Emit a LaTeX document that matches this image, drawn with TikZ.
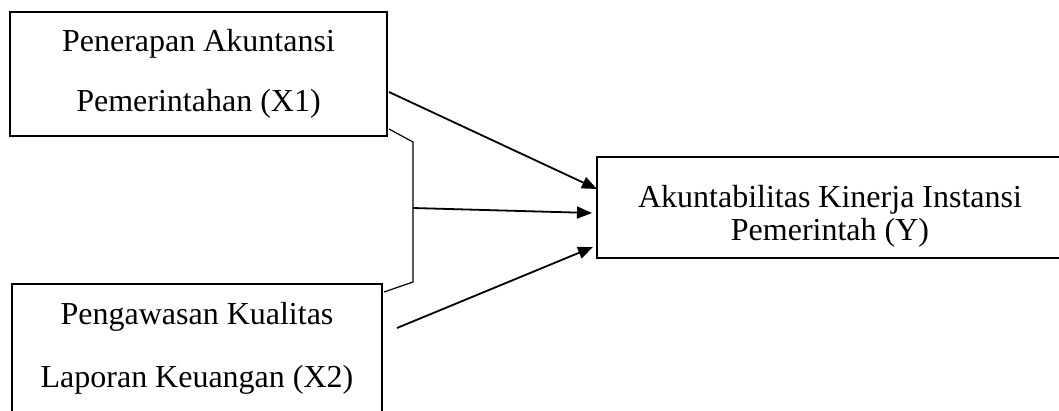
\documentclass[tikz,border=0pt]{standalone}
\usepackage{fontspec}
\setmainfont{Liberation Serif}
\usetikzlibrary{arrows.meta}

\begin{document}
\begin{tikzpicture}[x=1pt, y=-1pt,
        var/.style={rectangle, draw, line width=2pt, align=center, inner sep=0pt},
        link/.style={-{Triangle[length=15pt, width=12pt]}, line width=1.8pt},
        brace/.style={line width=1.2pt}
      ]
      \clip (0,0) rectangle (1059,410);
      \node[var, minimum width=377pt, minimum height=124pt, font=\fontsize{32}{60}\selectfont] (x1) at (198.5,74)
        {Penerapan Akuntansi\\Pemerintahan (X1)};
      \node[var, minimum width=370pt, minimum height=128pt, font=\fontsize{32}{63}\selectfont] (x2) at (197,348)
        {Pengawasan Kualitas\\Laporan Keuangan (X2)};
      \node[var, minimum width=466pt, minimum height=101pt] (y) at (830,207.5) {};
      \node[align=center, inner sep=0pt, font=\fontsize{32}{33}\selectfont] (ytext) at (830,216)
        {Akuntabilitas Kinerja Instansi\\Pemerintah (Y)};
      % bracket joining X1 and X2
      \coordinate (b1) at (389,129);
      \coordinate (b2) at (413,142);
      \coordinate (b3) at (413,282);
      \coordinate (b4) at (384,292);
      \coordinate (bm) at (413,208);
      \draw[brace] (b1) -- (b2) -- (b3) -- (b4);
      % arrows into Y
      \coordinate (s1) at (389,92);
      \coordinate (s2) at (397,328);
      \coordinate (t1) at (597,189);
      \coordinate (t2) at (592,213);
      \coordinate (t3) at (593,247);
      \draw[link] (s1) -- (t1);
      \draw[link] (bm) -- (t2);
      \draw[link] (s2) -- (t3);
    \end{tikzpicture}
\end{document}
